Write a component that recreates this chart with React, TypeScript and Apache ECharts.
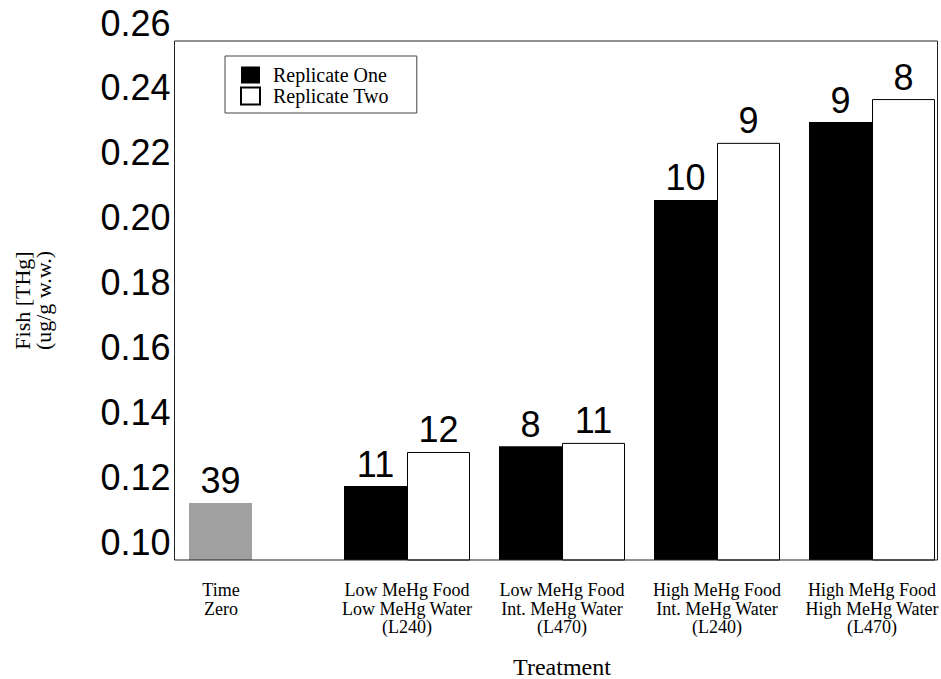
import React, { useEffect, useRef } from "react";
import * as echarts from "echarts";

const categories = [
  "Time\nZero",
  "Low MeHg Food\nLow MeHg Water\n(L240)",
  "Low MeHg Food\nInt. MeHg Water\n(L470)",
  "High MeHg Food\nInt. MeHg Water\n(L240)",
  "High MeHg Food\nHigh MeHg Water\n(L470)",
];
const replicateOne = [0.1176, 0.1228, 0.1351, 0.211, 0.235];
const replicateTwo: (number | null)[] = [null, 0.1333, 0.1361, 0.2286, 0.2421];
const countsOne = [39, 11, 8, 10, 9];
const countsTwo: (number | null)[] = [null, 12, 11, 9, 8];
const yTicks = { min: 0.1, max: 0.26, interval: 0.02 };

const SANS = "Liberation Sans";
const SERIF = "Liberation Serif";

export default function App() {
  const ref = useRef<HTMLDivElement>(null);
  useEffect(() => {
    if (!ref.current) return;
    const chart = echarts.init(ref.current, undefined, { renderer: "svg" });
    const labelStyle = {
      show: true,
      position: "top" as const,
      distance: 4,
      fontFamily: SANS,
      fontSize: 36,
      color: "#000",
    };
    chart.setOption({
      animation: false,
      backgroundColor: "#fff",
      grid: {
        left: 174.5,
        top: 41,
        width: 775,
        height: 519,
        containLabel: false,
        outerBoundsMode: "none",
      },
      legend: {
        orient: "vertical",
        left: 225,
        top: 56,
        padding: [9, 28, 7, 15],
        itemWidth: 19,
        itemHeight: 17,
        itemGap: 1,
        borderColor: "#444",
        borderWidth: 1,
        icon: "rect",
        textStyle: { fontFamily: SERIF, fontSize: 20, color: "#000", padding: [0, 0, 0, 8] },
        data: ["Replicate One", "Replicate Two"],
      },
      xAxis: {
        type: "category",
        data: categories.map((c, i) =>
          i === 0 ? { value: c, textStyle: { padding: [0, 62, 0, 0], align: "center" } } : c
        ),
        name: "Treatment",
        nameLocation: "middle",
        nameGap: 95,
        nameTextStyle: { fontFamily: SERIF, fontSize: 24, color: "#000" },
        axisLine: { show: false },
        axisTick: { show: false },
        axisLabel: {
          interval: 0,
          margin: 21,
          fontFamily: SERIF,
          fontSize: 18,
          lineHeight: 18.5,
          color: "#000",
        },
      },
      yAxis: {
        type: "value",
        min: yTicks.min,
        max: yTicks.max,
        interval: yTicks.interval,
        name: "Fish [THg]\n(ug/g w.w.)",
        nameLocation: "middle",
        nameGap: 121,
        nameRotate: 90,
        nameTextStyle: { fontFamily: SERIF, fontSize: 22, lineHeight: 21, color: "#000" },
        axisLine: { show: false },
        axisTick: { show: false },
        splitLine: { show: false },
        axisLabel: {
          margin: 4,
          fontFamily: SANS,
          fontSize: 36,
          lineHeight: 36,
          verticalAlign: "bottom",
          color: "#000",
          formatter: (v: number) => v.toFixed(2),
        },
      },
      series: [
        {
          name: "Replicate One",
          type: "bar",
          barWidth: 63,
          barGap: "0%",
          itemStyle: { color: "#000" },
          data: replicateOne.map((v, i) =>
            i === 0 ? { value: v, itemStyle: { color: "#a0a0a0" } } : v
          ),
          label: { ...labelStyle, formatter: (p: any) => String(countsOne[p.dataIndex]) },
        },
        {
          name: "Replicate Two",
          type: "bar",
          barWidth: 63,
          barGap: "0%",
          itemStyle: { color: "#fff", borderColor: "#000", borderWidth: 1 },
          data: replicateTwo.map((v) => (v === null ? "-" : v)),
          label: {
            ...labelStyle,
            formatter: (p: any) => (countsTwo[p.dataIndex] == null ? "" : String(countsTwo[p.dataIndex])),
          },
        },
      ],
      graphic: [
        {
          type: "rect",
          z: 100,
          silent: true,
          shape: { x: 174.5, y: 41, width: 763, height: 519 },
          style: { fill: "none", stroke: "#222", lineWidth: 1 },
        },
      ],
    });
    return () => chart.dispose();
  }, []);
  return (
    <div
      ref={ref}
      style={{ position: "absolute", left: 0, top: 0, width: 941, height: 679 }}
    />
  );
}
